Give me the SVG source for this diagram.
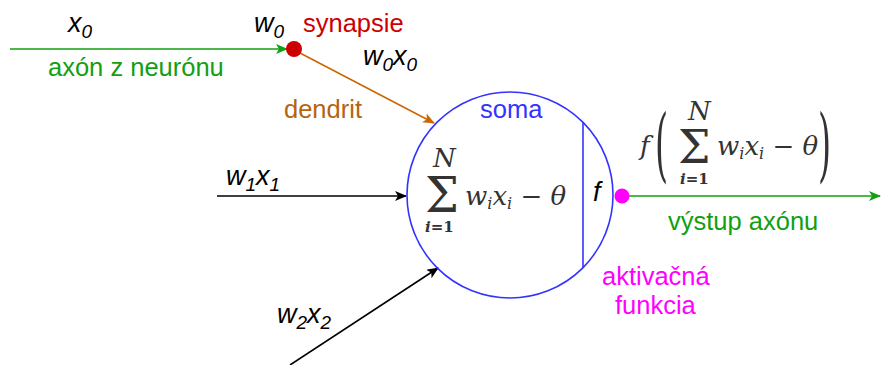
<svg xmlns="http://www.w3.org/2000/svg" width="881" height="365" viewBox="0 0 881 365">
<style>
.sans{font-family:"Liberation Sans",Arial,sans-serif;font-size:25.5px}
.it{font-family:"Liberation Sans",Arial,sans-serif;font-size:27px;font-style:italic;fill:#000}
.sub{font-size:19px}
.math{font-family:"DejaVu Serif","Liberation Serif",serif;font-style:italic;fill:#333;font-size:26px}
.mup{font-family:"DejaVu Serif","Liberation Serif",serif;fill:#333}
.ln{fill:none;stroke-width:1.6}
</style>
<defs>
<marker id="ab" viewBox="0 0 12 10" markerWidth="12" markerHeight="10" refX="11" refY="5" orient="auto" markerUnits="userSpaceOnUse"><path d="M0,0 L12,5 L0,10 L3,5 z" fill="#000"/></marker>
<marker id="ag" viewBox="0 0 12 10" markerWidth="12" markerHeight="10" refX="11" refY="5" orient="auto" markerUnits="userSpaceOnUse"><path d="M0,0 L12,5 L0,10 L3,5 z" fill="#11a011"/></marker>
<marker id="ao" viewBox="0 0 12 10" markerWidth="12" markerHeight="10" refX="11" refY="5" orient="auto" markerUnits="userSpaceOnUse"><path d="M0,0 L12,5 L0,10 L3,5 z" fill="#cc6600"/></marker>
</defs>
<rect width="881" height="365" fill="#fff"/>
<g id="connectors">
<line class="ln" x1="10" y1="49" x2="287" y2="49" stroke="#11a011" marker-end="url(#ag)"/>
<line class="ln" x1="300" y1="53" x2="434" y2="123" stroke="#cc6600" marker-end="url(#ao)"/>
<line class="ln" x1="217" y1="196" x2="406" y2="196" stroke="#000" marker-end="url(#ab)"/>
<line class="ln" x1="290" y1="365" x2="438" y2="268" stroke="#000" marker-end="url(#ab)"/>
<line class="ln" x1="628" y1="196" x2="880" y2="196" stroke="#11a011" marker-end="url(#ag)"/>
</g>
<g id="soma">
<circle cx="510" cy="195" r="103" fill="none" stroke="#3333ff" stroke-width="1.6"/>
<line x1="583" y1="122" x2="583" y2="268" stroke="#3333ff" stroke-width="1.6"/>
<text class="sans" x="480" y="118" fill="#3333ff">soma</text>
<text class="mup" x="425" y="212" font-size="48">Σ</text>
<text class="math" x="433" y="167" font-size="15">N</text>
<text class="mup" x="425" y="232" font-size="15" font-weight="bold"><tspan font-style="italic">i</tspan>=1</text>
<text class="math" x="465" y="205">w<tspan font-size="16" dy="4">i</tspan><tspan dy="-4">x</tspan><tspan font-size="16" dy="4">i</tspan><tspan dy="-4" font-style="normal"> − </tspan>θ</text>
<text class="it" x="593" y="201">f</text>
</g>
<g id="synapse">
<circle cx="294" cy="49" r="8" fill="#cc0000"/>
<text class="sans" x="303" y="32" fill="#cc0000">synapsie</text>
</g>
<g id="activation">
<circle cx="622" cy="196" r="7.5" fill="#ff00ff"/>
<text class="sans" x="602" y="285" fill="#ff00ff">aktivačná</text>
<text class="sans" x="615" y="314" fill="#ff00ff">funkcia</text>
</g>
<g id="labels">
<text class="it" x="68" y="32">x<tspan class="sub" dy="6">0</tspan></text>
<text class="it" x="254" y="32">w<tspan class="sub" dy="6">0</tspan></text>
<text class="sans" x="48" y="76" fill="#11a011">axón z neurónu</text>
<text class="it" x="363" y="65">w<tspan class="sub" dy="6">0</tspan><tspan dy="-6">x</tspan><tspan class="sub" dy="6">0</tspan></text>
<text class="sans" x="284" y="118" fill="#b5650d">dendrit</text>
<text class="it" x="226" y="185">w<tspan class="sub" dy="6">1</tspan><tspan dy="-6">x</tspan><tspan class="sub" dy="6">1</tspan></text>
<text class="it" x="277" y="323">w<tspan class="sub" dy="6">2</tspan><tspan dy="-6">x</tspan><tspan class="sub" dy="6">2</tspan></text>
<text class="sans" x="668" y="230" fill="#11a011">výstup axónu</text>
</g>
<g id="output-formula">
<text class="math" x="640" y="155">f</text>
<text class="mup" x="0" y="0" font-size="80" transform="translate(655,172) scale(0.42,1)">(</text>
<text class="mup" x="678" y="163" font-size="46">Σ</text>
<text class="math" x="688" y="120" font-size="15">N</text>
<text class="mup" x="680" y="184" font-size="15" font-weight="bold"><tspan font-style="italic">i</tspan>=1</text>
<text class="math" x="717" y="155">w<tspan font-size="16" dy="4">i</tspan><tspan dy="-4">x</tspan><tspan font-size="16" dy="4">i</tspan><tspan dy="-4" font-style="normal"> − </tspan>θ</text>
<text class="mup" x="0" y="0" font-size="80" transform="translate(818,172) scale(0.42,1)">)</text>
</g>
</svg>
